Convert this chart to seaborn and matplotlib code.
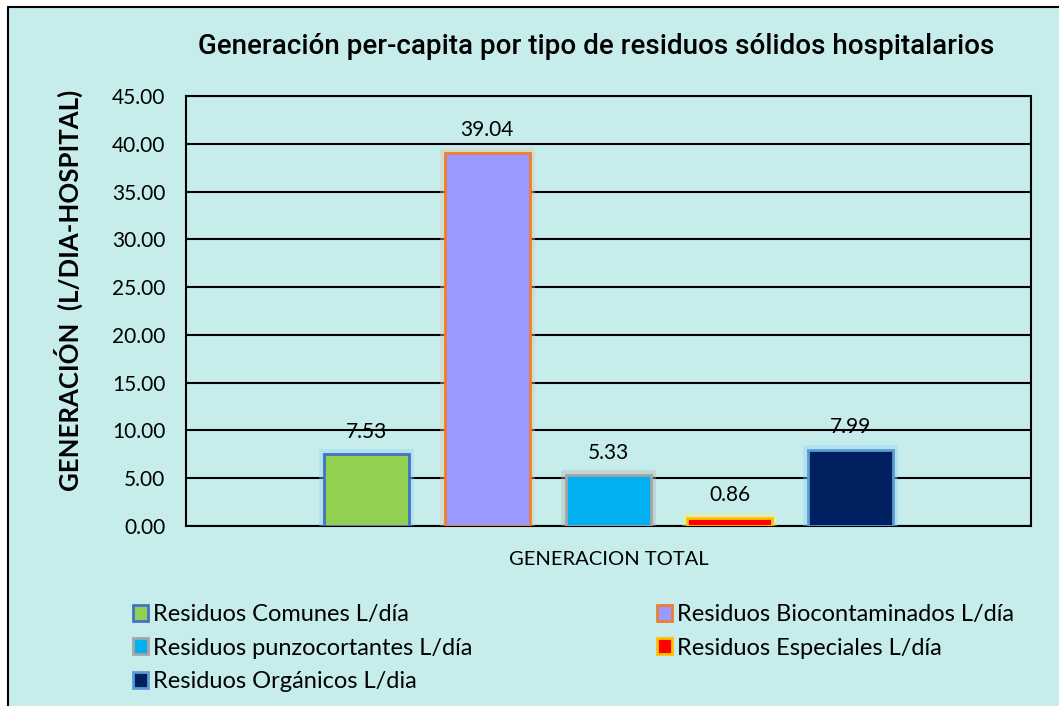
import numpy as np
import pandas as pd
import matplotlib.pyplot as plt
import matplotlib.patheffects as pe
from matplotlib.patches import Patch
import seaborn as sns

# --- data ---
categoria = ["GENERACION TOTAL"]
tipos = ["Residuos Comunes L/día", "Residuos Biocontaminados L/día",
         "Residuos punzocortantes L/día", "Residuos Especiales L/día",
         "Residuos Orgánicos L/dia"]
valores = [7.53, 39.04, 5.33, 0.86, 7.99]

colores = ["#92D050", "#9999FF", "#00B0F0", "#FF0000", "#002060"]
bordes = ["#4472C4", "#ED7D31", "#A5A5A5", "#FFC000", "#5B9BD5"]
brillo = ["#8FD3F5", "#E6C79A", "#B0B8B8", "#F2F07A", "#8FD3F5"]
fondo = "#C6EDEC"

df = pd.DataFrame({"cat": categoria * len(tipos), "tipo": tipos, "valor": valores})

sns.set_style("white")
plt.rcParams['font.family'] = ['Lato', 'DejaVu Sans']
plt.rcParams['text.color'] = 'black'
plt.rcParams['xtick.color'] = 'black'
plt.rcParams['ytick.color'] = 'black'
plt.rcParams['axes.labelcolor'] = 'black'

fig = plt.figure(figsize=(10.59, 7.06), dpi=100)
fig.patch.set_facecolor("white")
# background panel with left/top border
fig.patches.append(plt.Rectangle((8 / 1059, 0), 1, 1 - 7 / 706, transform=fig.transFigure,
                                 facecolor=fondo, edgecolor="none", zorder=-10))
fig.add_artist(plt.Line2D([8 / 1059, 8 / 1059], [0, 1 - 7 / 706], color="black", lw=1.5,
                          transform=fig.transFigure))
fig.add_artist(plt.Line2D([8 / 1059, 1], [1 - 7 / 706, 1 - 7 / 706], color="black", lw=1.5,
                          transform=fig.transFigure))

ax = fig.add_axes([186 / 1059, 1 - 526 / 706, (1031 - 186) / 1059, (526 - 96) / 706])
ax.set_facecolor("none")

sns.barplot(data=df, x="cat", y="valor", hue="tipo", hue_order=tipos,
            palette=colores, saturation=1, width=0.717, gap=0.3, legend=False,
            ax=ax, zorder=3)

for cont, ec, gl in zip(ax.containers, bordes, brillo):
    for p in cont:
        p.set_edgecolor(ec)
        p.set_linewidth(2)
        p.set_path_effects([pe.withStroke(linewidth=7, foreground=gl, alpha=0.4)])
    ax.bar_label(cont, fmt="%.2f", padding=9, fontsize=15)

ax.set_ylim(0, 45)
ax.set_yticks(np.arange(0, 46, 5))
ax.set_yticklabels([f"{v:.2f}" for v in np.arange(0, 46, 5)], fontsize=15)
ax.tick_params(axis="both", length=0)
ax.tick_params(axis="y", pad=15)
ax.tick_params(axis="x", labelsize=14.5, pad=18)
ax.grid(axis="y", color="black", lw=1.5, zorder=0)
ax.set_axisbelow(True)
for s in ax.spines.values():
    s.set_visible(True)
    s.set_color("black")
    s.set_linewidth(1.5)

ax.set_xlabel("")
ax.set_ylabel("GENERACIÓN  (L/DIA-HOSPITAL)", fontsize=18.5, fontweight="bold",
              va="center")
ax.yaxis.set_label_coords(-0.1396, 0.549)

titulo = fig.text(596 / 1059, 1 - 46 / 706,
                  "Generación per-capita por tipo de residuos sólidos hospitalarios",
                  ha="center", va="center", fontsize=24, fontweight="medium",
                  family=["Roboto", "DejaVu Sans"])
# fit the title to the width it has in the reference
fig.canvas.draw()
ancho = titulo.get_window_extent().width
titulo.set_fontsize(24 * 795 / ancho)

handles = [Patch(facecolor=c, edgecolor=e, lw=2) for c, e in zip(colores, bordes)]
orden = [0, 2, 4, 1, 3]
fig.legend([handles[i] for i in orden], [tipos[i] for i in orden],
           loc="upper left", bbox_to_anchor=(133 / 1059, 1 - 604 / 706), ncol=2,
           frameon=False, fontsize=17, handlelength=0.65, handleheight=0.65,
           handletextpad=0.2, labelspacing=0.53, columnspacing=7.8, borderpad=0,
           borderaxespad=0)

fig.savefig("out.png", dpi=100, facecolor=fig.get_facecolor())
